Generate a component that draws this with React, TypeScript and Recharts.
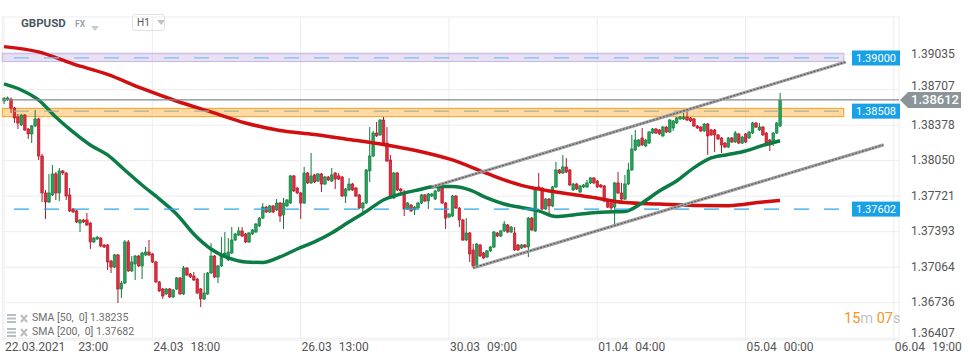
import React from "react";
import {
  ComposedChart,
  Bar,
  Line,
  XAxis,
  YAxis,
  CartesianGrid,
  ReferenceLine,
  ReferenceArea,
} from "recharts";

// hourly GBPUSD candles, 22.03 23:00 onwards
const opens = [
  1.38602,1.38616,1.38620,1.38537,1.38454,1.38380,1.38472,1.38343,1.38297,1.38371,
  1.38436,1.38093,1.37751,1.37668,1.37733,1.37927,1.37751,1.37955,1.37936,1.37733,
  1.37603,1.37585,1.37473,1.37501,1.37501,1.37473,1.37298,1.37325,1.37334,1.37270,
  1.37270,1.37122,1.37066,1.37178,1.36863,1.36918,1.37298,1.37030,1.37094,1.37168,
  1.37076,1.37178,1.37205,1.37187,1.37113,1.36928,1.36863,1.36817,1.36863,1.36789,
  1.36863,1.36965,1.36817,1.37057,1.37002,1.36983,1.36955,1.36863,1.36771,1.36817,
  1.37011,1.37168,1.36974,1.37076,1.37168,1.37131,1.37196,1.37316,1.37362,1.37400,
  1.37372,1.37298,1.37372,1.37390,1.37446,1.37519,1.37621,1.37575,1.37631,1.37594,
  1.37658,1.37548,1.37631,1.37658,1.37909,1.37797,1.37751,1.37658,1.37936,1.37844,
  1.37918,1.37862,1.37927,1.37834,1.37899,1.37862,1.37936,1.37909,1.37899,1.37723,
  1.37779,1.37834,1.37797,1.37733,1.37612,1.37658,1.37955,1.38093,1.38306,1.38288,
  1.38426,1.38213,1.38056,1.37705,1.37936,1.37788,1.37760,1.37603,1.37640,1.37594,
  1.37612,1.37658,1.37733,1.37677,1.37723,1.37695,1.37770,1.37807,1.37658,1.37529,
  1.37538,1.37723,1.37612,1.37501,1.37316,1.37381,1.37224,1.37076,1.37270,1.37196,
  1.37159,1.37215,1.37251,1.37381,1.37353,1.37400,1.37455,1.37390,1.37381,1.37270,
  1.37242,1.37270,1.37251,1.37519,1.37400,1.37807,1.37797,1.37603,1.37695,1.37631,
  1.37807,1.37964,1.37936,1.37992,1.37964,1.37779,1.37834,1.37760,1.37807,1.37807,
  1.37844,1.37890,1.37862,1.37825,1.37816,1.37686,1.37658,1.37621,1.37844,1.37751,
  1.37695,1.37834,1.37964,1.38149,1.38186,1.38260,1.38186,1.38213,1.38306,1.38343,
  1.38334,1.38279,1.38361,1.38315,1.38352,1.38398,1.38436,1.38436,1.38454,1.38445,
  1.38436,1.38371,1.38361,1.38325,1.38389,1.38334,1.38334,1.38288,1.38260,1.38213,
  1.38176,1.38260,1.38223,1.38297,1.38213,1.38297,1.38260,1.38306,1.38398,1.38334,
  1.38361,1.38306,1.38241,1.38213,1.38306,1.38371,
];
const highs = [
  1.38638,1.38643,1.38634,1.38546,1.38482,1.38482,1.38482,1.38352,1.38380,1.38519,
  1.38445,1.38112,1.37779,1.37927,1.38010,1.37945,1.37982,1.37964,1.37945,1.37797,
  1.37612,1.37594,1.37511,1.37511,1.37566,1.37483,1.37343,1.37353,1.37343,1.37279,
  1.37279,1.37131,1.37187,1.37187,1.36937,1.37316,1.37316,1.37168,1.37178,1.37178,
  1.37205,1.37251,1.37316,1.37196,1.37122,1.36937,1.36872,1.36872,1.36872,1.36863,
  1.36974,1.36974,1.37076,1.37066,1.37011,1.37020,1.36965,1.36872,1.37011,1.37020,
  1.37288,1.37178,1.37085,1.37343,1.37390,1.37334,1.37436,1.37381,1.37436,1.37436,
  1.37381,1.37390,1.37418,1.37473,1.37529,1.37658,1.37631,1.37640,1.37640,1.37695,
  1.37668,1.37705,1.37695,1.37918,1.37918,1.37807,1.37760,1.37992,1.37945,1.38121,
  1.37927,1.37936,1.37936,1.37909,1.37909,1.37982,1.37945,1.37936,1.37909,1.37797,
  1.37890,1.37844,1.37807,1.37742,1.37668,1.37973,1.38361,1.38325,1.38408,1.38436,
  1.38454,1.38361,1.38103,1.37945,1.37945,1.37797,1.37779,1.37668,1.37649,1.37631,
  1.37668,1.37742,1.37742,1.37751,1.37751,1.37779,1.37816,1.37816,1.37668,1.37566,
  1.37733,1.37733,1.37621,1.37511,1.37519,1.37390,1.37279,1.37288,1.37279,1.37205,
  1.37224,1.37261,1.37400,1.37390,1.37409,1.37492,1.37464,1.37446,1.37436,1.37279,
  1.37279,1.37279,1.37529,1.37529,1.37797,1.37936,1.37807,1.37705,1.37705,1.37816,
  1.38038,1.37973,1.38103,1.38074,1.37973,1.37844,1.37844,1.37825,1.37834,1.37871,
  1.37899,1.37899,1.37871,1.37834,1.37825,1.37695,1.37668,1.37853,1.37945,1.37844,
  1.37918,1.38029,1.38288,1.38334,1.38251,1.38352,1.38251,1.38325,1.38352,1.38352,
  1.38343,1.38371,1.38371,1.38436,1.38426,1.38454,1.38463,1.38491,1.38519,1.38454,
  1.38445,1.38380,1.38371,1.38398,1.38398,1.38343,1.38343,1.38297,1.38269,1.38223,
  1.38269,1.38269,1.38325,1.38306,1.38279,1.38306,1.38325,1.38408,1.38408,1.38398,
  1.38371,1.38315,1.38251,1.38315,1.38408,1.38676,
];
const lows = [
  1.38574,1.38602,1.38491,1.38398,1.38343,1.38371,1.38325,1.38251,1.38213,1.38361,
  1.38056,1.37668,1.37511,1.37658,1.37723,1.37686,1.37677,1.37918,1.37686,1.37575,
  1.37566,1.37473,1.37390,1.37473,1.37446,1.37233,1.37288,1.37316,1.37251,1.37242,
  1.37039,1.37011,1.37057,1.36733,1.36780,1.36909,1.37020,1.37020,1.36946,1.37066,
  1.36955,1.37168,1.37168,1.37103,1.36918,1.36835,1.36771,1.36808,1.36780,1.36780,
  1.36854,1.36808,1.36808,1.36983,1.36965,1.36937,1.36817,1.36696,1.36761,1.36808,
  1.37002,1.36965,1.36918,1.37066,1.37159,1.37122,1.37187,1.37307,1.37353,1.37343,
  1.37288,1.37288,1.37362,1.37381,1.37436,1.37511,1.37566,1.37566,1.37566,1.37585,
  1.37483,1.37418,1.37621,1.37649,1.37760,1.37742,1.37511,1.37649,1.37834,1.37834,
  1.37844,1.37853,1.37760,1.37825,1.37862,1.37853,1.37788,1.37871,1.37714,1.37658,
  1.37770,1.37770,1.37714,1.37603,1.37566,1.37649,1.37853,1.38084,1.38269,1.38279,
  1.38204,1.38038,1.37695,1.37695,1.37770,1.37751,1.37538,1.37594,1.37575,1.37548,
  1.37603,1.37649,1.37668,1.37603,1.37714,1.37686,1.37760,1.37649,1.37418,1.37519,
  1.37529,1.37603,1.37436,1.37307,1.37307,1.37113,1.37057,1.37066,1.37159,1.37140,
  1.37150,1.37205,1.37242,1.37343,1.37343,1.37390,1.37381,1.37381,1.37215,1.37215,
  1.37233,1.37242,1.37159,1.37400,1.37390,1.37788,1.37594,1.37594,1.37538,1.37621,
  1.37797,1.37927,1.37927,1.37936,1.37816,1.37770,1.37779,1.37751,1.37797,1.37797,
  1.37834,1.37834,1.37797,1.37797,1.37668,1.37612,1.37566,1.37455,1.37742,1.37677,
  1.37686,1.37825,1.37955,1.38139,1.38176,1.38186,1.38176,1.38204,1.38297,1.38297,
  1.38288,1.38269,1.38306,1.38306,1.38325,1.38389,1.38426,1.38426,1.38417,1.38408,
  1.38361,1.38343,1.38315,1.38315,1.38103,1.38279,1.38130,1.38241,1.38121,1.38167,
  1.38167,1.38213,1.38213,1.38204,1.38204,1.38213,1.38251,1.38297,1.38352,1.38325,
  1.38279,1.38195,1.38139,1.38186,1.38297,1.38361,
];
const closes = [
  1.38625,1.38630,1.38537,1.38445,1.38398,1.38472,1.38334,1.38297,1.38371,1.38436,
  1.38093,1.37751,1.37668,1.37751,1.37927,1.37751,1.37955,1.37936,1.37723,1.37585,
  1.37575,1.37483,1.37501,1.37483,1.37455,1.37298,1.37334,1.37343,1.37261,1.37251,
  1.37113,1.37066,1.37178,1.36863,1.36918,1.37298,1.37030,1.37113,1.37168,1.37076,
  1.37196,1.37205,1.37178,1.37113,1.36928,1.36845,1.36798,1.36863,1.36789,1.36854,
  1.36965,1.36817,1.37057,1.36992,1.36974,1.36946,1.36826,1.36771,1.36826,1.37011,
  1.37168,1.36974,1.37076,1.37168,1.37196,1.37205,1.37316,1.37372,1.37400,1.37353,
  1.37298,1.37381,1.37409,1.37464,1.37519,1.37621,1.37575,1.37631,1.37575,1.37658,
  1.37538,1.37658,1.37686,1.37909,1.37770,1.37751,1.37658,1.37936,1.37844,1.37909,
  1.37853,1.37927,1.37834,1.37899,1.37871,1.37918,1.37880,1.37880,1.37723,1.37788,
  1.37834,1.37779,1.37723,1.37612,1.37658,1.37964,1.38093,1.38306,1.38279,1.38426,
  1.38213,1.38047,1.37705,1.37936,1.37779,1.37770,1.37603,1.37658,1.37585,1.37621,
  1.37658,1.37733,1.37677,1.37742,1.37742,1.37770,1.37807,1.37658,1.37519,1.37556,
  1.37723,1.37612,1.37501,1.37316,1.37381,1.37187,1.37076,1.37279,1.37168,1.37150,
  1.37215,1.37251,1.37390,1.37353,1.37400,1.37464,1.37390,1.37436,1.37224,1.37224,
  1.37270,1.37251,1.37519,1.37409,1.37788,1.37797,1.37603,1.37695,1.37631,1.37807,
  1.37964,1.37936,1.37992,1.37945,1.37825,1.37834,1.37788,1.37816,1.37825,1.37844,
  1.37890,1.37844,1.37807,1.37807,1.37677,1.37621,1.37612,1.37844,1.37751,1.37695,
  1.37834,1.37964,1.38158,1.38241,1.38241,1.38195,1.38241,1.38315,1.38343,1.38306,
  1.38297,1.38361,1.38315,1.38426,1.38417,1.38445,1.38454,1.38454,1.38426,1.38417,
  1.38371,1.38352,1.38325,1.38389,1.38279,1.38288,1.38288,1.38251,1.38195,1.38176,
  1.38260,1.38223,1.38306,1.38213,1.38269,1.38223,1.38315,1.38398,1.38361,1.38361,
  1.38288,1.38213,1.38195,1.38306,1.38398,1.38612,
];

const sma50Idx = [
  0, 5, 10, 15, 20, 25, 30, 35, 40, 45, 50, 55, 60, 65, 70, 75, 80, 85, 90, 95, 100, 105, 110,
  115, 120, 125, 130, 135, 140, 145, 150, 155, 160, 165, 170, 175, 180, 185, 190, 195, 200, 205,
  210, 215, 220, 225,
];
const sma50 = [
  1.3876, 1.38704, 1.38612, 1.38454, 1.38316, 1.38195, 1.38103, 1.37964, 1.37825, 1.37696,
  1.37557, 1.37372, 1.37233, 1.3715, 1.37113, 1.37108, 1.37159, 1.37233, 1.37298, 1.37381,
  1.37483, 1.3758, 1.37686, 1.37742, 1.37779, 1.3781, 1.3781, 1.37779, 1.37705, 1.37649,
  1.37617, 1.37585, 1.37534, 1.37548, 1.37566, 1.37575, 1.3758, 1.37659, 1.3777, 1.37862,
  1.37983, 1.38075, 1.38107, 1.3814, 1.38191, 1.38235,
];
const sma200Idx = [
  0, 10, 20, 30, 40, 50, 60, 70, 80, 90, 100, 110, 120, 130, 140, 150, 160, 170, 180, 190, 200,
  210, 220, 225,
];
const sma200 = [
  1.39105, 1.39056, 1.38945, 1.38848, 1.38718, 1.38602, 1.38501, 1.38399, 1.38329, 1.38292,
  1.38246, 1.382, 1.3814, 1.38057, 1.37932, 1.37821, 1.3776, 1.37714, 1.37663, 1.37649,
  1.37636, 1.37634, 1.37668, 1.37682,
];

const yTicks = [1.39035, 1.38707, 1.38378, 1.3805, 1.37721, 1.37393, 1.37064, 1.36736, 1.36407];
const xTickIdx = [0, 43, 86, 129, 172, 215, 258];
const xTickDates = ["22.03.2021", "24.03", "26.03", "30.03", "01.04", "05.04", "06.04"];
const xTickTimes = ["23:00", "18:00", "13:00", "09:00", "04:00", "00:00", "19:00"];

const upperChannel = [
  { x: 124, y: 1.37806 },
  { x: 244, y: 1.38962 },
];
const lowerChannel = [
  { x: 136, y: 1.37057 },
  { x: 255, y: 1.38196 },
];

const lastPrice = 1.38612;
const resistLevel = 1.39;
const pivotLevel = 1.38508;
const supportLevel = 1.37602;
const purpleBand = [1.38967, 1.39044];
const orangeBand = [1.38457, 1.38534];
const bandEnd = 243;
const SLOTS = 260; // room for future hours up to 06.04 19:00

const rows = Array.from({ length: SLOTS }, (_, i) => {
  const has = i < closes.length;
  const a = sma50Idx.indexOf(i);
  const b = sma200Idx.indexOf(i);
  return {
    i,
    o: has ? opens[i] : null,
    c: has ? closes[i] : null,
    range: has ? [lows[i], highs[i]] : null,
    sma50: a >= 0 ? sma50[a] : null,
    sma200: b >= 0 ? sma200[b] : null,
  };
});

const FONT = "Roboto, sans-serif";

// eslint-disable-next-line @typescript-eslint/no-explicit-any
const Candle = (props: any) => {
  const { x, y, width, height, payload } = props;
  if (!payload || !payload.range) return null;
  const [lo, hi] = payload.range;
  const top = Math.min(y, y + height);
  const h = Math.abs(height);
  const k = h / (hi - lo);
  const cx = x + width / 2;
  const up = payload.c >= payload.o;
  const bTop = top + (hi - Math.max(payload.o, payload.c)) * k;
  const bBot = top + (hi - Math.min(payload.o, payload.c)) * k;
  const fill = up ? "#25a15c" : "#e52a3b";
  const edge = up ? "#107a3d" : "#ad1828";
  return (
    <g>
      <line x1={cx} x2={cx} y1={top} y2={top + h} stroke={edge} strokeWidth={1} />
      <rect
        x={cx - 1.3}
        y={bTop}
        width={2.6}
        height={Math.max(bBot - bTop, 1)}
        fill={fill}
        stroke={edge}
        strokeWidth={0.6}
      />
    </g>
  );
};

// eslint-disable-next-line @typescript-eslint/no-explicit-any
const PriceTick = (p: any) => {
  const v = Number(p.payload.value);
  // keep the tick just above the live price tag readable
  const nudge = v > lastPrice && v - lastPrice < 0.0015 ? -3 : 0;
  return (
    <text
      x={p.x + 4}
      y={Math.min(p.y, 333) + nudge}
      dy={3.5}
      fontSize={12}
      fill="#555"
      fontFamily={FONT}
    >
      {v.toFixed(5)}
    </text>
  );
};

// eslint-disable-next-line @typescript-eslint/no-explicit-any
const TimeTick = (p: any) => {
  const k = xTickIdx.indexOf(p.payload.value);
  if (k < 0) return null;
  return (
    <text x={p.x + 1} y={p.y + 3} fontSize={12} fill="#555" fontFamily={FONT}>
      {xTickDates[k]}
      <tspan dx={k === 0 ? 13 : 7}>{xTickTimes[k]}</tspan>
    </text>
  );
};

const levelTag = (value: number, fill: string) =>
  // eslint-disable-next-line @typescript-eslint/no-explicit-any
  (p: any) => {
    const vb = p.viewBox;
    const right = vb.x + vb.width;
    const cy = vb.y;
    return (
      <g>
        <rect x={right - 47} y={cy - 7.5} width={48} height={15} fill={fill} />
        <text
          x={right - 23}
          y={cy + 4}
          textAnchor="middle"
          fontSize={11}
          fill="#fff"
          fontFamily={FONT}
        >
          {value.toFixed(5)}
        </text>
      </g>
    );
  };

// eslint-disable-next-line @typescript-eslint/no-explicit-any
const priceTag = (p: any) => {
  const vb = p.viewBox;
  const r = vb.x + vb.width + 1;
  const cy = vb.y;
  return (
    <g>
      <polygon
        points={`${r},${cy} ${r + 8},${cy - 8} ${r + 61},${cy - 8} ${r + 61},${cy + 8} ${r + 8},${cy + 8}`}
        fill="#8a9499"
      />
      <text x={r + 11} y={cy + 4.5} fontSize={13} fontWeight={500} fill="#fff" fontFamily={FONT}>
        {lastPrice.toFixed(5)}
      </text>
    </g>
  );
};

const Caret = ({ color }: { color: string }) => (
  <svg width="8" height="5" style={{ display: "inline-block" }}>
    <polygon points="0,0 8,0 4,5" fill={color} />
  </svg>
);

const SmaIcon = () => (
  <svg width="22" height="9" style={{ marginRight: 3 }}>
    <rect x="0" y="0" width="9" height="2" fill="#b8bec4" />
    <rect x="0" y="3.5" width="9" height="2" fill="#b8bec4" />
    <rect x="0" y="7" width="9" height="2" fill="#b8bec4" />
    <path d="M14 1 L20 8 M20 1 L14 8" stroke="#b8bec4" strokeWidth="2" />
  </svg>
);

export default function App() {
  return (
    <div
      style={{
        position: "absolute",
        left: 0,
        top: 0,
        width: 970,
        height: 364,
        background: "#fff",
        fontFamily: FONT,
      }}
    >
      <ComposedChart
        width={970}
        height={364}
        data={rows}
        margin={{ top: 17, right: 0, bottom: 0, left: 2.28 }}
      >
        <CartesianGrid stroke="#ededed" strokeWidth={1} />
        <XAxis
          dataKey="i"
          type="category"
          ticks={xTickIdx}
          interval={0}
          height={24}
          axisLine={false}
          tickLine={false}
          tick={<TimeTick />}
        />
        <YAxis
          orientation="right"
          type="number"
          width={71}
          domain={[1.36391, 1.39379]}
          allowDataOverflow
          ticks={yTicks}
          interval={0}
          axisLine={false}
          tickLine={false}
          tick={<PriceTick />}
        />
        <Line
          dataKey="sma200"
          type="monotone"
          connectNulls
          dot={false}
          stroke="#d20f10"
          strokeWidth={3.5}
          isAnimationActive={false}
        />
        <Line
          dataKey="sma50"
          type="monotone"
          connectNulls
          dot={false}
          stroke="#0b7c45"
          strokeWidth={3.5}
          isAnimationActive={false}
        />
        <Bar dataKey="range" shape={<Candle />} isAnimationActive={false} />
        <ReferenceArea
          x1={0}
          x2={bandEnd}
          y1={purpleBand[0]}
          y2={purpleBand[1]}
          fill="rgba(180,155,225,0.3)"
          fillOpacity={1}
          stroke="#c7b5e6"
          strokeWidth={1}
        />
        <ReferenceArea
          x1={0}
          x2={bandEnd}
          y1={orangeBand[0]}
          y2={orangeBand[1]}
          fill="rgba(255,170,50,0.45)"
          fillOpacity={1}
          stroke="#f6a11d"
          strokeWidth={1}
        />
        <ReferenceLine
          y={resistLevel}
          stroke="#7fc0ec"
          strokeWidth={1.2}
          strokeDasharray="15 15"
          label={levelTag(resistLevel, "#18a1e6")}
        />
        <ReferenceLine
          y={pivotLevel}
          stroke="#a9b39b"
          strokeWidth={1.2}
          strokeDasharray="15 15"
          label={levelTag(pivotLevel, "#18a1e6")}
        />
        <ReferenceLine
          y={supportLevel}
          stroke="#2ca6e6"
          strokeWidth={1.2}
          strokeDasharray="15 15"
          label={levelTag(supportLevel, "#18a1e6")}
        />
        <ReferenceLine y={lastPrice} stroke="#7f8a90" strokeWidth={1.2} label={priceTag} />
        <ReferenceLine segment={upperChannel} stroke="#a4a4a4" strokeWidth={3.2} />
        <ReferenceLine segment={upperChannel} stroke="#616161" strokeWidth={1.3} strokeDasharray="2 1.5" />
        <ReferenceLine segment={lowerChannel} stroke="#a4a4a4" strokeWidth={3.2} />
        <ReferenceLine segment={lowerChannel} stroke="#616161" strokeWidth={1.3} strokeDasharray="2 1.5" />
      </ComposedChart>

      <div style={{ position: "absolute", left: 21, top: 16, fontSize: 11.5, fontWeight: 700, color: "#4b5862" }}>
        GBPUSD
      </div>
      <div style={{ position: "absolute", left: 75, top: 19, fontSize: 8.5, fontWeight: 700, color: "#9aa4aa" }}>
        FX
      </div>
      <div style={{ position: "absolute", left: 91, top: 16 }}>
        <Caret color="#c8ccd0" />
      </div>
      <div
        style={{
          position: "absolute",
          left: 132,
          top: 14,
          width: 33,
          height: 17,
          border: "1px solid #dfe2e5",
          borderRadius: 3,
          boxSizing: "border-box",
          fontSize: 10,
          color: "#555",
          display: "flex",
          alignItems: "center",
          paddingLeft: 4,
          gap: 7,
        }}
      >
        H1
        <Caret color="#bfc4c8" />
      </div>

      <div style={{ position: "absolute", left: 7, top: 311, fontSize: 10.5, color: "#6d6d6d", lineHeight: "14px" }}>
        <div style={{ display: "flex", alignItems: "center" }}>
          <SmaIcon />
          SMA [50,&nbsp; 0] {sma50[sma50.length - 1].toFixed(5)}
        </div>
        <div style={{ display: "flex", alignItems: "center" }}>
          <SmaIcon />
          SMA [200,&nbsp; 0] {sma200[sma200.length - 1].toFixed(5)}
        </div>
      </div>

      <div style={{ position: "absolute", left: 844, top: 310, fontSize: 14.5, color: "#f7941d" }}>
        15<span style={{ color: "#c3c3c3" }}>m</span> 07<span style={{ color: "#c3c3c3" }}>s</span>
      </div>
    </div>
  );
}
